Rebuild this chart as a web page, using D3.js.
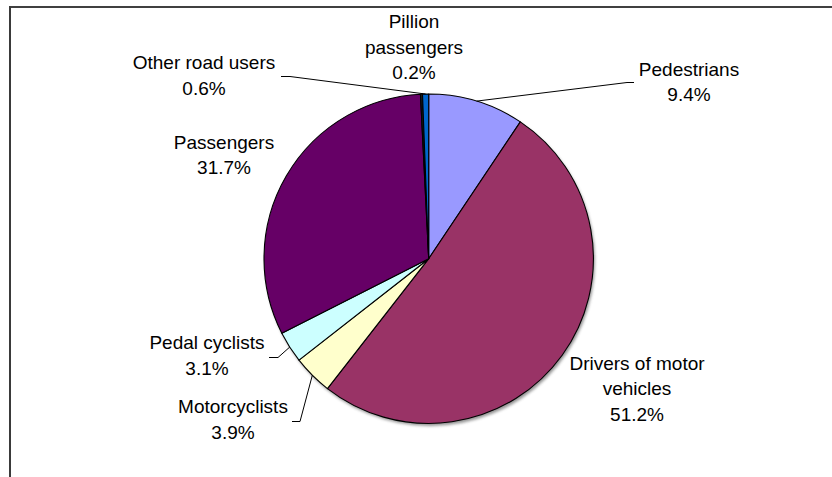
<!DOCTYPE html>
<html>
<head>
<meta charset="utf-8">
<script src="https://cdn.jsdelivr.net/npm/d3@7"></script>
<style>
  html, body { margin: 0; padding: 0; background: #fff; }
  svg { display: block; }
  text { font-family: "Liberation Sans", Arial, sans-serif; fill: #000; }
</style>
</head>
<body>
<svg id="chart" width="832" height="477"></svg>
<script>
// Road casualties by road user type (share of total)
const categories = ["Pedestrians", "Drivers of motor vehicles", "Motorcyclists", "Pedal cyclists", "Passengers", "Pillion passengers", "Other road users"];
const shares = [9.4, 51.2, 3.9, 3.1, 31.7, 0.2, 0.6];
// label text lines (the last line is the percentage)
const labelLines = [
  ["Pedestrians"],
  ["Drivers of motor", "vehicles"],
  ["Motorcyclists"],
  ["Pedal cyclists"],
  ["Passengers"],
  ["Pillion", "passengers"],
  ["Other road users"]
];
const colors = ["#9999FF", "#993366", "#FFFFCC", "#CCFFFF", "#660066", "#1a1a1a", "#0066CC"];

// label layout: centre x, first-line y, and leader start point (null = no leader)
const labelLayout = [
  { x: 689, y: 69, leader: [[634, 82.5], [627, 82.5]] },
  { x: 637, y: 363, leader: null },
  { x: 233, y: 406.5, leader: [[292, 421.5], [300, 421.5]] },
  { x: 207, y: 342.5, leader: [[269, 357.5], [278, 357.5]] },
  { x: 224, y: 142, leader: null },
  { x: 414, y: 21.5, leader: null },
  { x: 204, y: 62.5, leader: [[281, 76.5], [290, 76.5]] }
];

const W = 832, H = 477;
const cx = 428.7, cy = 258.7, R = 164.7;
const fontSize = 19, lineGap = 25.5;

const svg = d3.select("#chart");

// frame (top and left edges of the chart area)
svg.append("line").attr("x1", 9).attr("x2", W).attr("y1", 7).attr("y2", 7)
  .attr("stroke", "#000").attr("stroke-width", 1.4);
svg.append("line").attr("x1", 10).attr("x2", 10).attr("y1", 6.3).attr("y2", H)
  .attr("stroke", "#3a3a3a").attr("stroke-width", 2);

const defs = svg.append("defs");
defs.append("filter").attr("id", "soft").attr("x", "-10%").attr("y", "-10%").attr("width", "120%").attr("height", "120%")
  .append("feGaussianBlur").attr("stdDeviation", 1.6);

const data = categories.map((c, i) => ({ name: c, value: shares[i], color: colors[i], lines: labelLines[i], layout: labelLayout[i] }));

const pie = d3.pie().value(d => d.value).sort(null);
const arcs = pie(data);
const arc = d3.arc().innerRadius(0).outerRadius(R);
const rimArc = d3.arc().innerRadius(R).outerRadius(R);

const g = svg.append("g").attr("transform", `translate(${cx},${cy})`);

// soft shadow under the pie
g.append("circle").attr("cx", 1.5).attr("cy", 2.5).attr("r", R)
  .attr("fill", "#777").attr("filter", "url(#soft)").attr("opacity", 0.8);

g.selectAll("path.slice").data(arcs).enter().append("path")
  .attr("class", "slice")
  .attr("d", arc)
  .attr("fill", d => d.data.color)
  .attr("stroke", "#000")
  .attr("stroke-width", 1.1)
  .attr("stroke-linejoin", "round");

// leader lines from label to slice rim
arcs.forEach(a => {
  const L = a.data.layout;
  if (!L.leader) return;
  const p = rimArc.centroid(a);
  const pts = L.leader.map(q => [q[0], q[1]]).concat([[cx + p[0], cy + p[1]]]);
  svg.append("path")
    .attr("d", d3.line()(pts))
    .attr("fill", "none")
    .attr("stroke", "#000")
    .attr("stroke-width", 1);
});

// labels
arcs.forEach(a => {
  const L = a.data.layout;
  const lines = a.data.lines.concat([d3.format(".1f")(a.data.value) + "%"]);
  const t = svg.append("text")
    .attr("text-anchor", "middle")
    .attr("font-size", fontSize);
  lines.forEach((ln, i) => {
    t.append("tspan")
      .attr("x", L.x)
      .attr("y", L.y + i * lineGap)
      .attr("dy", "0.35em")
      .text(ln);
  });
});
</script>
</body>
</html>
